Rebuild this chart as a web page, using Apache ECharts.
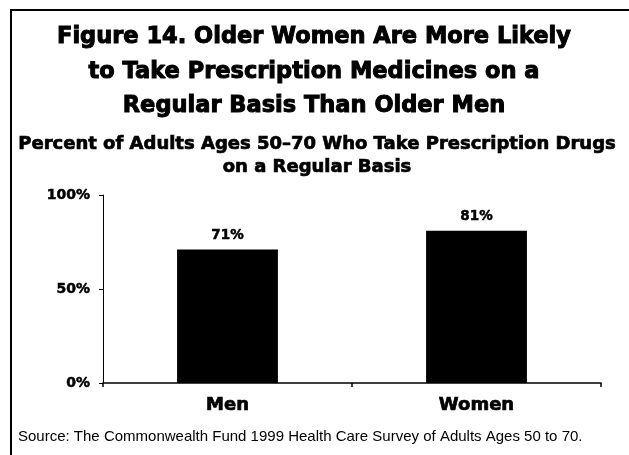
<!DOCTYPE html>
<html>
<head>
<meta charset="utf-8">
<script src="https://cdn.jsdelivr.net/npm/echarts@6/dist/echarts.min.js"></script>
<style>
html,body{margin:0;padding:0;background:#fff;}
#chart{width:629px;height:455px;}
</style>
</head>
<body>
<div id="chart"></div>
<script>
const categories = ['Men', 'Women'];
const values = [71, 81];
const yTicks = [0, 50, 100];
const titleLines = ['Figure 14. Older Women Are More Likely', 'to Take Prescription Medicines on a', 'Regular Basis Than Older Men'];
const subtitleLines = ['Percent of Adults Ages 50\u201370 Who Take Prescription Drugs', 'on a Regular Basis'];
const sourceText = 'Source: The Commonwealth Fund 1999 Health Care Survey of Adults Ages 50 to 70.';

const chart = echarts.init(document.getElementById('chart'), null, {renderer: 'canvas'});
const heavy = '"DejaVu Sans", sans-serif';

const titleY = [37, 72, 106];
const subY = [144, 167];
const graphics = [
  {
    type: 'rect',
    silent: true,
    shape: {x: 11, y: 10, width: 700, height: 600},
    style: {fill: 'none', stroke: '#000', lineWidth: 2}
  }
];
titleLines.forEach((t, i) => graphics.push({
  type: 'text', silent: true, x: 314, y: titleY[i],
  style: {text: t, fill: '#000', stroke: '#000', lineWidth: 1, font: 'bold 22.5px "DejaVu Sans", sans-serif', textAlign: 'center', textVerticalAlign: 'middle'}
}));
subtitleLines.forEach((t, i) => graphics.push({
  type: 'text', silent: true, x: 317, y: subY[i],
  style: {text: t, fill: '#000', stroke: '#000', lineWidth: 0.7, font: 'bold 18px "DejaVu Sans", sans-serif', textAlign: 'center', textVerticalAlign: 'middle'}
}));
graphics.push({
  type: 'text', silent: true, x: 18, y: 437,
  style: {text: sourceText, fill: '#000', font: '15px "Liberation Sans", Arial, sans-serif', textAlign: 'left', textVerticalAlign: 'middle'}
});

chart.setOption({
  animation: false,
  backgroundColor: '#fff',
  graphic: graphics,
  grid: {left: 103, right: 28, top: 195, bottom: 72},
  xAxis: {
    type: 'category',
    data: categories,
    boundaryGap: true,
    axisLine: {show: true, lineStyle: {color: '#000', width: 1.5}},
    axisTick: {show: true, length: 4, alignWithLabel: false, lineStyle: {color: '#000', width: 1.5}},
    axisLabel: {fontFamily: heavy, fontWeight: 'bold', fontSize: 18, color: '#000', margin: 13, textBorderColor: '#000', textBorderWidth: 0.7}
  },
  yAxis: {
    type: 'value',
    min: 0,
    max: 100,
    interval: 50,
    axisLine: {show: true, lineStyle: {color: '#000', width: 1}},
    axisTick: {show: true, length: 4, inside: false, lineStyle: {color: '#000'}},
    splitLine: {show: false},
    axisLabel: {
      fontFamily: heavy, fontWeight: 'bold', fontSize: 14, color: '#000', margin: 13,
      textBorderColor: '#000', textBorderWidth: 0.5,
      formatter: v => (yTicks.indexOf(v) >= 0 ? v + '%' : '')
    }
  },
  series: [{
    type: 'bar',
    data: values,
    barWidth: '40.5%',
    itemStyle: {color: '#000'},
    label: {
      show: true, position: 'top', distance: 7,
      formatter: '{c}%',
      fontFamily: heavy, fontWeight: 'bold', fontSize: 13.5, color: '#000',
      textBorderColor: '#000', textBorderWidth: 0.5
    }
  }]
});
</script>
</body>
</html>
